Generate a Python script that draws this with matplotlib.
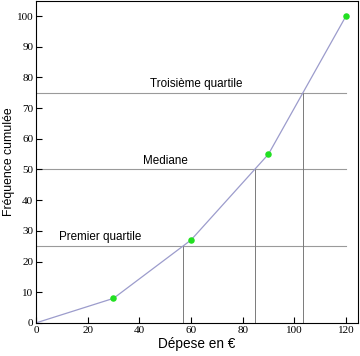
import numpy as np
import matplotlib
matplotlib.use('Agg')
import matplotlib.pyplot as plt

# data: cumulated frequency vs spending
depense = [0, 30, 60, 90, 120]
freq_cumulee = [0, 8, 27, 55, 100]
quartiles = [25, 50, 75]
labels = ['Premier quartile', 'Mediane', 'Troisième quartile']
label_x = [25, 50, 62]

fig = plt.figure(figsize=(3.6, 3.56), dpi=100)
ax = fig.add_axes([0.1, 0.093, 0.894, 0.904])

# quartile lines
for q, lab, lx in zip(quartiles, labels, label_x):
    xq = np.interp(q, freq_cumulee, depense)
    ax.plot([0, depense[-1]], [q, q], color='#9a9a9a', lw=0.8, zorder=1)
    ax.plot([xq, xq], [0, q], color='#7a7a7a', lw=0.7, zorder=1)
    ax.text(lx, q + 0.9, lab, ha='center', va='bottom', fontsize=8.4,
            family='Liberation Sans')

# curve and points
ax.plot(depense, freq_cumulee, color='#9c9ccc', lw=0.9, zorder=2)
ax.scatter(depense[1:], freq_cumulee[1:], s=22, color='#22e022', zorder=3, linewidths=0)

ax.set_xlim(0, 124.6)
ax.set_ylim(0, 104.9)
ax.set_xticks([0, 20, 40, 60, 80, 100, 120])
ax.set_yticks(range(0, 101, 10))
ax.tick_params(direction='in', length=4, width=0.8, labelsize=8, pad=2)
for t in ax.get_xticklabels() + ax.get_yticklabels():
    t.set_family('Liberation Serif')

ax.set_xlabel('Dépese en €', fontsize=9.8, family='Liberation Sans', labelpad=2)
ax.set_ylabel('Fréquence cumulée', fontsize=8.8, family='Liberation Sans', labelpad=1)

plt.savefig('out.png', dpi=100)
